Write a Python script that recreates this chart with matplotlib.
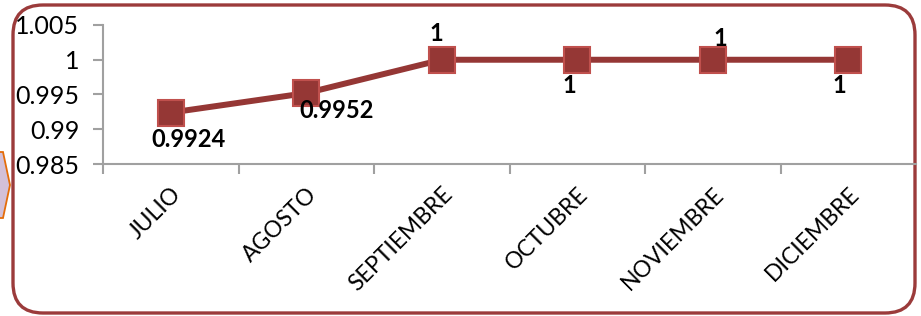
import matplotlib
matplotlib.use("Agg")
import matplotlib.pyplot as plt
from matplotlib.patches import FancyBboxPatch, Polygon

months = ["JULIO", "AGOSTO", "SEPTIEMBRE", "OCTUBRE", "NOVIEMBRE", "DICIEMBRE"]
values = [0.9924, 0.9952, 1, 1, 1, 1]
labels = ["0.9924", "0.9952", "1", "1", "1", "1"]
yticks = [0.985, 0.99, 0.995, 1, 1.005]
ytick_labels = ["0.985", "0.99", "0.995", "1", "1.005"]

plt.rcParams['font.family'] = ['Lato', 'DejaVu Sans']

W, H = 921, 316
fig = plt.figure(figsize=(W / 100, H / 100), dpi=100)
fig.patch.set_facecolor("white")

# background/frame axes in pixel coordinates
bg = fig.add_axes([0, 0, 1, 1], zorder=0)
bg.set_xlim(0, W)
bg.set_ylim(H, 0)
bg.axis("off")
frame = FancyBboxPatch((13, 5), 902, 308,
                       boxstyle="round,pad=0,rounding_size=30",
                       facecolor="white", edgecolor="#9b3b3b", linewidth=2.4)
bg.add_patch(frame)
arrow = Polygon([(-2, 152), (3, 152), (10, 185), (3, 218), (-2, 218)],
                closed=True, facecolor="#d3c0d8", edgecolor="#e46c0a", linewidth=1.3)
bg.add_patch(arrow)

ax = fig.add_axes([103 / W, 1 - 164 / H, (916 - 103) / W, (164 - 25) / H], zorder=1)
ax.patch.set_alpha(0)
x = list(range(len(months)))
ax.plot(x, values, color="#953735", linewidth=4.3, marker="s", markersize=19,
        markerfacecolor="#953735", markeredgecolor="#c0504d", markeredgewidth=1.5,
        zorder=3, clip_on=False)

ax.set_xlim(-0.5, len(months) - 0.5)
ax.set_ylim(0.985, 1.005)
ax.set_yticks(yticks)
ax.set_yticklabels(ytick_labels)
ax.set_xticks(x)
ax.set_xticklabels(months, rotation=45, ha="right", va="top", rotation_mode="anchor")
ax.set_xticks([i - 0.5 for i in x], minor=True)
ax.tick_params(axis="x", which="major", length=0, pad=14, labelsize=16.5)
ax.tick_params(axis="x", which="minor", length=7, color="#a0a0a0", width=1.5)
ax.tick_params(axis="y", length=7, color="#a0a0a0", width=1.5, labelsize=18, pad=10)
for s in ["top", "right"]:
    ax.spines[s].set_visible(False)
for s in ["left", "bottom"]:
    ax.spines[s].set_color("#a0a0a0")
    ax.spines[s].set_linewidth(1.5)

# data labels (offsets in pixels)
offsets = [(18, -27), (30, -17), (-5, 26), (-8, -26), (8, 21), (-9, -26)]
for xi, v, lab, (dx, dy) in zip(x, values, labels, offsets):
    ax.annotate(lab, (xi, v), xytext=(dx * 0.72, dy * 0.72), textcoords="offset points",
                ha="center", va="center", fontsize=17, fontweight="bold", color="black",
                zorder=4)

fig.savefig("out.png", dpi=100)
